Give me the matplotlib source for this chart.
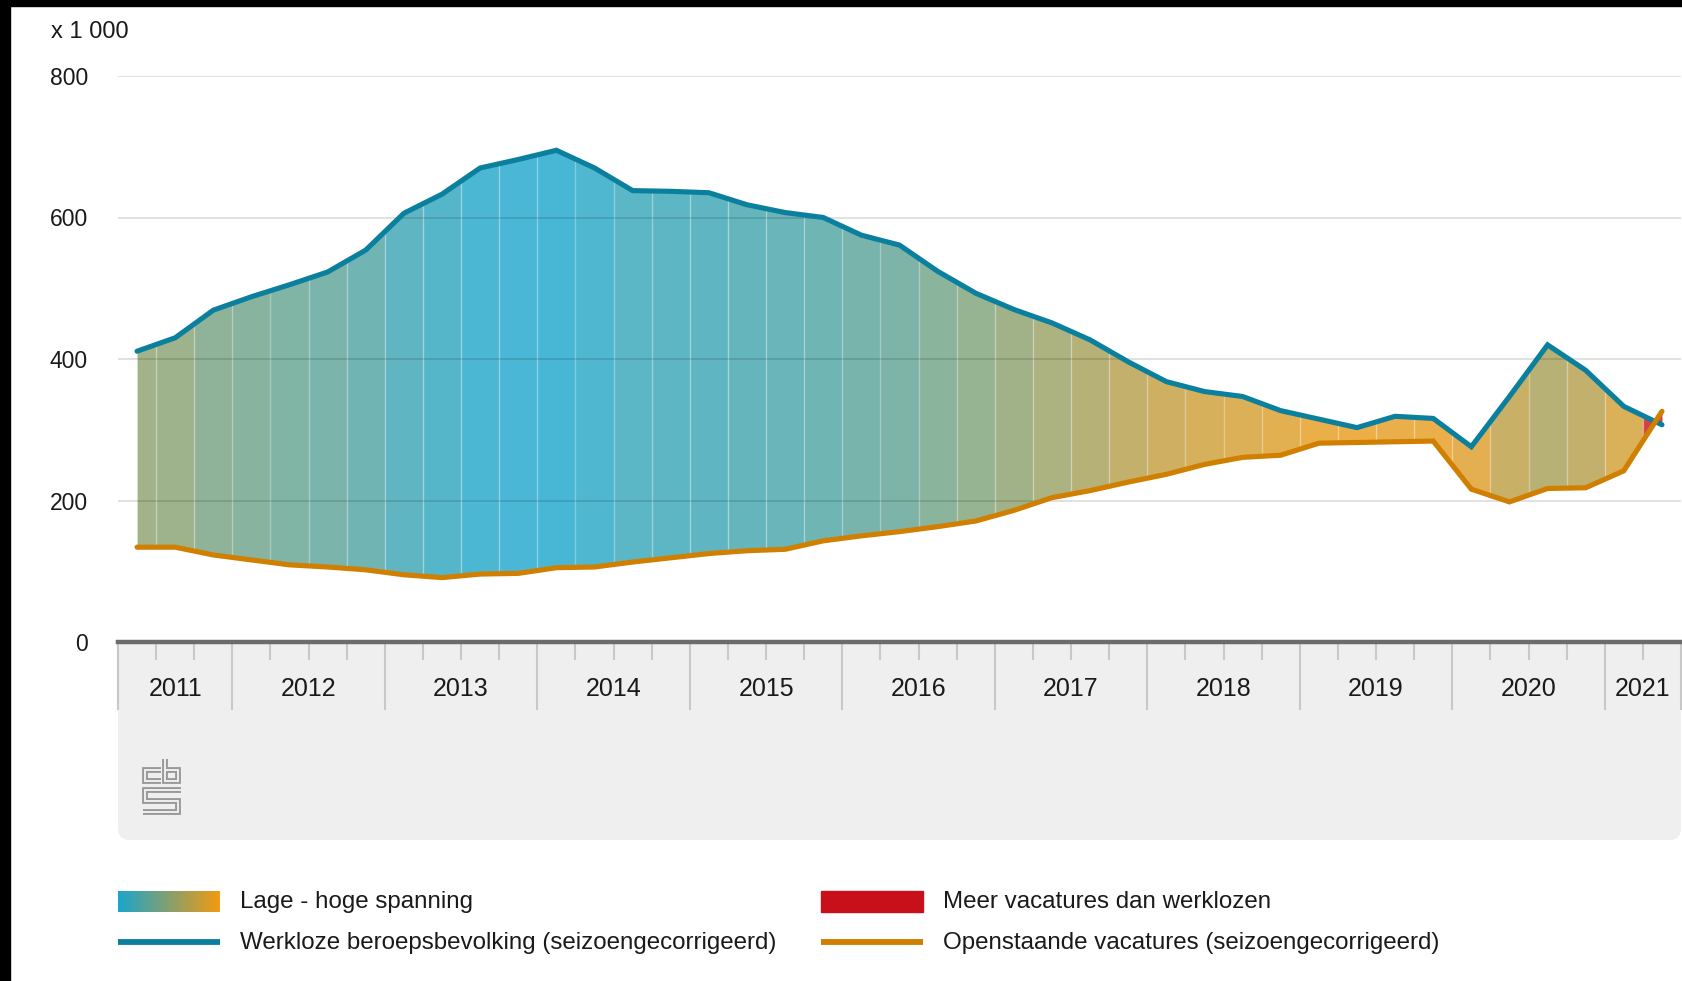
import numpy as np
import matplotlib
matplotlib.use("Agg")
import matplotlib.pyplot as plt
import matplotlib.patheffects as pe
from matplotlib.colors import LinearSegmentedColormap
from matplotlib.patches import FancyBboxPatch, Rectangle

# * - - - Data (x 1 000), quarterly from 2011 Q2 up to 2021 Q2
start_year = 2011
start_quarter = 2
werklozen = [411, 430, 469, 488, 505, 523, 554, 606, 633, 670, 682, 695,
             670, 638, 637, 635, 618, 607, 600, 575, 561, 524, 493, 470,
             451, 427, 396, 368, 354, 347, 327, 315, 303, 319, 316, 276,
             347, 420, 384, 333, 307]
vacatures = [134, 134, 123, 116, 109, 106, 102, 95, 91, 96, 97, 105,
             106, 113, 119, 125, 129, 131, 143, 150, 156, 163, 171, 186,
             204, 214, 226, 237, 251, 261, 264, 281, 282, 283, 284, 216,
             198, 217, 218, 242, 326]
y_ticks = [0, 200, 400, 600, 800]
unit_label = "x 1 000"
legend_labels = ["Lage - hoge spanning",
                 "Meer vacatures dan werklozen",
                 "Werkloze beroepsbevolking (seizoengecorrigeerd)",
                 "Openstaande vacatures (seizoengecorrigeerd)"]

# * - - - Styles
BLUE = "#0b809e"
ORANGE = "#d07f00"
RED = "#c8101a"
GRAD_LOW = "#1aa5cc"
GRAD_HIGH = "#f29a12"
TEXT = "#1a1a1a"
BOX = "#efefef"
TICK = "#c8c8c8"
plt.rcParams["font.family"] = ["Liberation Sans", "DejaVu Sans"]

W, H = 1683, 981
fig = plt.figure(figsize=(W / 100, H / 100), dpi=100)
fig.patch.set_facecolor("white")

# * - - - Background layer in pixel coordinates (box, logo, legend)
bg = fig.add_axes([0, 0, 1, 1], zorder=0)
bg.set_xlim(0, W)
bg.set_ylim(H, 0)
bg.set_autoscale_on(False)
bg.axis("off")

bg.add_patch(FancyBboxPatch((118, 615), 1681 - 118, 840 - 615,
                            boxstyle="round,pad=0,rounding_size=12",
                            facecolor=BOX, edgecolor="none"))
bg.add_patch(Rectangle((0, 0), 10, H, color="black", zorder=10))
bg.add_patch(Rectangle((0, 0), W, 6, color="black", zorder=10))

# cbs logo, drawn as outlined strokes
logo_fx = [pe.Stroke(linewidth=4.2, foreground="#999999"),
           pe.Stroke(linewidth=1.4, foreground=BOX)]
logo_paths = [
    ([160.7, 145.3, 145.3, 160.7], [769.5, 769.5, 781, 781]),
    ([165, 165, 178.3, 178.3, 165], [758.5, 781, 781, 769.5, 769.5]),
    ([180.7, 145.3, 145.3, 178.3, 178.3, 142.7], [789.5, 789.5, 801, 801, 812, 812]),
]
for lx, ly in logo_paths:
    bg.plot(lx, ly, color=BOX, lw=1.4, solid_joinstyle="miter",
            solid_capstyle="butt", path_effects=logo_fx)

# * - - - Main chart
ax = fig.add_axes([118 / W, 1 - 642 / H, (1681 - 118) / W, (642 - 76) / H], zorder=1)
ax.set_facecolor("white")
for s in ax.spines.values():
    s.set_visible(False)

n = len(werklozen)
x = np.arange(n)
w = np.array(werklozen, dtype=float)
v = np.array(vacatures, dtype=float)
gap = w - v

ax.set_xlim(-0.5, n - 0.5)
ax.set_ylim(0, 800)

# tension colour: the smaller the gap between the lines, the more orange
cmap = LinearSegmentedColormap.from_list("spanning", [GRAD_LOW, GRAD_HIGH])
t = np.clip(1 - gap / gap.max(), 0, 1)

for i in range(n):
    xs = np.unique([max(i - 0.5, 0), i, min(i + 0.5, n - 1)])
    col = RED if gap[i] < 0 else cmap(t[i])
    ax.fill_between(xs, np.interp(xs, x, v), np.interp(xs, x, w),
                    color=col, alpha=0.8, lw=0, zorder=2)

# light seams between the quarters
for b in np.arange(0.5, n - 1, 1.0):
    ax.vlines(b, np.interp(b, x, v), np.interp(b, x, w),
              color="white", alpha=0.3, lw=1.0, zorder=2.5)

for gv in y_ticks[1:]:
    ax.axhline(gv, color="black", alpha=0.12, lw=1.4, zorder=3)

ax.plot(x, w, color=BLUE, lw=3.7, solid_joinstyle="miter",
        solid_capstyle="round", zorder=5)
ax.plot(x, v, color=ORANGE, lw=3.7, solid_joinstyle="miter",
        solid_capstyle="round", zorder=6)

ax.axhline(0, color="#6b6b6b", lw=3.2, zorder=7, clip_on=False)

# y axis
ax.set_yticks(y_ticks)
ax.tick_params(axis="y", length=0, pad=21.6, labelsize=16.5, labelcolor=TEXT)

# x axis: year dividers, quarter ticks, year labels centred per year
years = list(range(start_year, start_year + (start_quarter - 1 + n - 1) // 4 + 1))
year_bounds = [-0.5] + [(y - start_year) * 4 - (start_quarter - 1) - 0.5
                        for y in years[1:]] + [n - 0.5]
ax.set_xticks(year_bounds)
ax.set_xticks(np.arange(-0.5, n, 1.0), minor=True)
ax.tick_params(axis="x", which="major", length=68 / 1.389, width=1.5,
               color=TICK, labelbottom=False)
ax.tick_params(axis="x", which="minor", length=18 / 1.389, width=1.5,
               color=TICK, labelbottom=False)
for k, yr in enumerate(years):
    ax.text((year_bounds[k] + year_bounds[k + 1]) / 2, -47 / 566, str(yr),
            transform=ax.get_xaxis_transform(), ha="center", va="center",
            fontsize=18, color=TEXT, clip_on=False)

bg.text(51.5, 32, unit_label, ha="left", va="center", fontsize=17, color=TEXT)

# * - - - Legend
grad = np.linspace(0, 1, 256)[None, :]
bg.imshow(grad, cmap=cmap, extent=(118, 220, 912, 891), aspect="auto", zorder=2)
bg.add_patch(Rectangle((821, 891), 102, 21, color=RED, zorder=2))
bg.plot([118, 220], [941.5, 941.5], color=BLUE, lw=4.2, solid_capstyle="butt")
bg.plot([821, 923], [941.5, 941.5], color=ORANGE, lw=4.2, solid_capstyle="butt")
bg.set_xlim(0, W)
bg.set_ylim(H, 0)

for lx, ly, lab in [(240, 902, legend_labels[0]), (943, 902, legend_labels[1]),
                    (240, 943.5, legend_labels[2]), (943, 943.5, legend_labels[3])]:
    bg.text(lx, ly, lab, ha="left", va="center", fontsize=17.4, color=TEXT)

fig.savefig("out.png", dpi=100)
